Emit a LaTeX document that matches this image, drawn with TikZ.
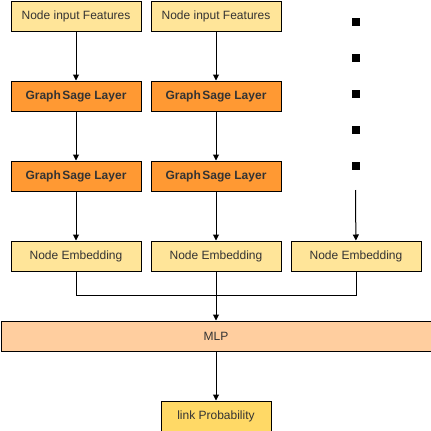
\documentclass[tikz,border=0pt]{standalone}
\usepackage{fontspec}
\setmainfont{Liberation Sans}
\usetikzlibrary{arrows.meta}
\definecolor{lightyellow}{HTML}{FFE599}
\definecolor{gsorange}{HTML}{FF9933}
\definecolor{peach}{HTML}{FFCE9F}
\definecolor{gold}{HTML}{FFD966}
\definecolor{txt}{HTML}{333333}
\begin{document}
\begin{tikzpicture}[x=1pt,y=-1pt,
  box/.style={draw=black, line width=1pt, minimum width=130pt, minimum height=30pt, inner sep=0pt, anchor=north west, text=txt, font=\fontsize{12}{14}\selectfont},
  infeat/.style={box, fill=lightyellow},
  gslayer/.style={box, fill=gsorange, font=\fontsize{12}{14}\selectfont\bfseries},
  embed/.style={box, fill=lightyellow},
  mlpbox/.style={box, fill=peach, minimum width=430pt},
  probbox/.style={box, fill=gold, minimum width=110pt},
  arr/.style={draw=black, line width=1pt, -{Triangle[length=6pt,width=6pt]}},
  ln/.style={draw=black, line width=1pt},
  dot/.style={fill=black, minimum size=8pt, inner sep=0pt}
]
\useasboundingbox (0,0) rectangle (431,431);
\node[infeat] (f1) at (10.5,0.5) {Node input Features};
\node[infeat] (f2) at (150.5,0.5) {Node input Features};
\node[gslayer] (g11) at (10.5,80.5) {Graph\hspace{1.5pt}Sage Layer};
\node[gslayer] (g21) at (150.5,80.5) {Graph\hspace{1.5pt}Sage Layer};
\node[gslayer] (g12) at (10.5,160.5) {Graph\hspace{1.5pt}Sage Layer};
\node[gslayer] (g22) at (150.5,160.5) {Graph\hspace{1.5pt}Sage Layer};
\node[embed] (e1) at (10.5,240.5) {Node Embedding};
\node[embed] (e2) at (150.5,240.5) {Node Embedding};
\node[embed] (e3) at (290.5,240.5) {Node Embedding};
\node[mlpbox] (mlp) at (0.5,320.5) {MLP};
\node[probbox] (lp) at (160.5,400.5) {link Probability};
\foreach \i/\yy in {1/22,2/58,3/94,4/130,5/166}
  \node[dot] (d\i) at (355.5,\yy) {};
\coordinate (c3) at (355.5,190);
\coordinate (j) at (215.5,295.5);
\draw[arr] (f1) -- (g11);
\draw[arr] (g11) -- (g12);
\draw[arr] (g12) -- (e1);
\draw[arr] (f2) -- (g21);
\draw[arr] (g21) -- (g22);
\draw[arr] (g22) -- (e2);
\draw[arr] (c3) -- (e3);
\draw[ln] (e1.south) |- (j);
\draw[ln] (e3.south) |- (j);
\draw[arr] (e2.south) -- (e2.south |- mlp.north);
\draw[arr] (mlp.south -| lp.north) -- (lp.north);
\end{tikzpicture}
\end{document}
